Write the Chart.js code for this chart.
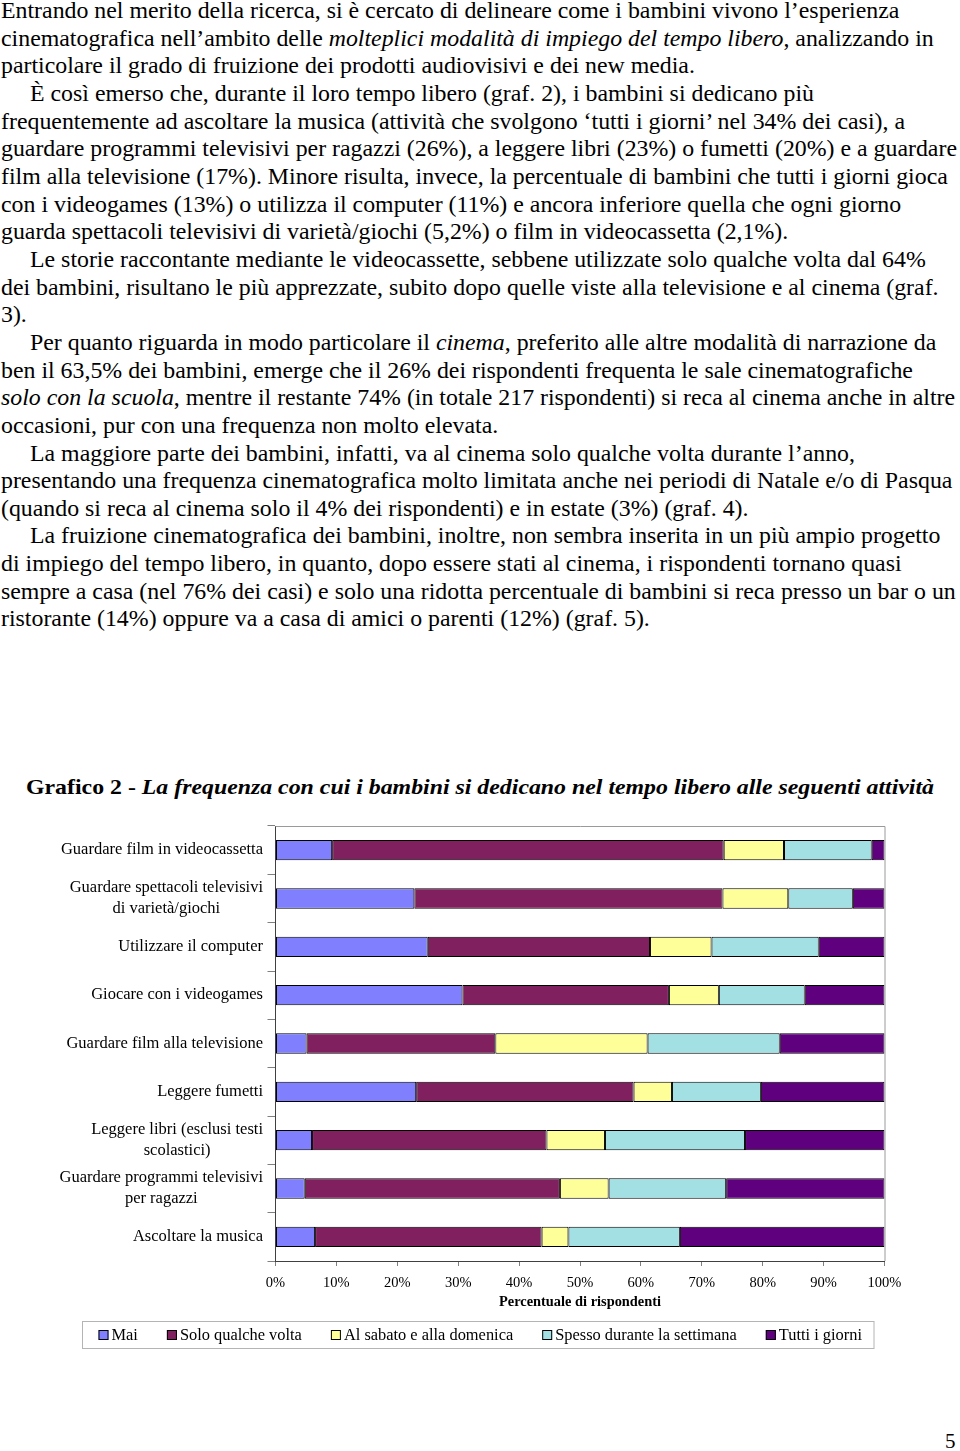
<!DOCTYPE html>
<html>
<head>
<meta charset="utf-8">
<script src="https://cdn.jsdelivr.net/npm/chart.js@4"></script>
<style>
  html, body { margin: 0; padding: 0; background: #fff; }
  body { width: 960px; height: 1451px; position: relative; overflow: hidden; font-family: "Liberation Serif", serif; color: #000; }
  #text { position: absolute; left: 1px; top: -3px; font-size: 23.85px; line-height: 27.65px; }
  #text div { white-space: nowrap; }
  #text .ind { padding-left: 29px; }
  #title { position: absolute; left: 26px; top: 774px; font-size: 22px; font-weight: bold; white-space: nowrap; transform-origin: left center; }
  #chartBox { position: absolute; left: 0; top: 815px; width: 960px; height: 545px; }
  #pageNum { position: absolute; left: 945px; top: 1429px; font-size: 21px; }
</style>
</head>
<body>
<div id="text">
  <div>Entrando nel merito della ricerca, si è cercato di delineare come i bambini vivono l’esperienza</div>
  <div>cinematografica nell’ambito delle <i>molteplici modalità di impiego del tempo libero</i>, analizzando in</div>
  <div>particolare il grado di fruizione dei prodotti audiovisivi e dei new media.</div>
  <div class="ind">È così emerso che, durante il loro tempo libero (graf. 2), i bambini si dedicano più</div>
  <div>frequentemente ad ascoltare la musica (attività che svolgono ‘tutti i giorni’ nel 34% dei casi), a</div>
  <div>guardare programmi televisivi per ragazzi (26%), a leggere libri (23%) o fumetti (20%) e a guardare</div>
  <div>film alla televisione (17%). Minore risulta, invece, la percentuale di bambini che tutti i giorni gioca</div>
  <div>con i videogames (13%) o utilizza il computer (11%) e ancora inferiore quella che ogni giorno</div>
  <div>guarda spettacoli televisivi di varietà/giochi (5,2%) o film in videocassetta (2,1%).</div>
  <div class="ind">Le storie raccontante mediante le videocassette, sebbene utilizzate solo qualche volta dal 64%</div>
  <div>dei bambini, risultano le più apprezzate, subito dopo quelle viste alla televisione e al cinema (graf.</div>
  <div>3).</div>
  <div class="ind">Per quanto riguarda in modo particolare il <i>cinema</i>, preferito alle altre modalità di narrazione da</div>
  <div>ben il 63,5% dei bambini, emerge che il 26% dei rispondenti frequenta le sale cinematografiche</div>
  <div><i>solo con la scuola</i>, mentre il restante 74% (in totale 217 rispondenti) si reca al cinema anche in altre</div>
  <div>occasioni, pur con una frequenza non molto elevata.</div>
  <div class="ind">La maggiore parte dei bambini, infatti, va al cinema solo qualche volta durante l’anno,</div>
  <div>presentando una frequenza cinematografica molto limitata anche nei periodi di Natale e/o di Pasqua</div>
  <div>(quando si reca al cinema solo il 4% dei rispondenti) e in estate (3%) (graf. 4).</div>
  <div class="ind">La fruizione cinematografica dei bambini, inoltre, non sembra inserita in un più ampio progetto</div>
  <div>di impiego del tempo libero, in quanto, dopo essere stati al cinema, i rispondenti tornano quasi</div>
  <div>sempre a casa (nel 76% dei casi) e solo una ridotta percentuale di bambini si reca presso un bar o un</div>
  <div>ristorante (14%) oppure va a casa di amici o parenti (12%) (graf. 5).</div>
</div>

<div id="title">Grafico 2 - <i>La frequenza con cui i bambini si dedicano nel tempo libero alle seguenti attività</i></div>

<div id="chartBox"><canvas id="chart"></canvas></div>
<div id="pageNum">5</div>

<script>
// activities, top to bottom as in the chart
const activities = [
    'Guardare film in videocassetta',
    ['Guardare spettacoli televisivi', 'di varietà/giochi'],
    'Utilizzare il computer',
    'Giocare con i videogames',
    'Guardare film alla televisione',
    'Leggere fumetti',
    ['Leggere libri (esclusi testi', 'scolastici)'],
    ['Guardare programmi televisivi', 'per ragazzi'],
    'Ascoltare la musica'
];

const frequencyNames = ['Mai', 'Solo qualche volta', 'Al sabato e alla domenica', 'Spesso durante la settimana', 'Tutti i giorni'];

// percent of respondents per activity
const mai = [9.3, 22.8, 25.0, 30.7, 5.1, 23.1, 6.0, 4.8, 6.5];
const soloQualcheVolta = [64.3, 50.6, 36.5, 33.9, 31.0, 35.7, 38.5, 41.9, 37.2];
const sabatoDomenica = [9.9, 10.8, 10.1, 8.2, 25.0, 6.3, 9.6, 8.0, 4.4];
const spessoSettimana = [14.4, 10.6, 17.6, 14.1, 21.7, 14.6, 23.0, 19.3, 18.3];
const tuttiGiorni = [2.1, 5.2, 10.8, 13.1, 17.2, 20.3, 22.9, 26.0, 33.6];

const xTicks = [0, 10, 20, 30, 40, 50, 60, 70, 80, 90, 100];

const colors = ['#8080ff', '#80205f', '#ffff99', '#a3e0e3', '#5f007f'];

const FONT = 'Liberation Serif';

// squeeze the title to the reference width
const titleEl = document.getElementById('title');
const tw = titleEl.getBoundingClientRect().width;
titleEl.style.transform = 'scaleX(' + (908 / tw) + ')';

// category labels: right-aligned block, lines centred inside it (like Excel)
const categoryLabels = {
    id: 'categoryLabels',
    afterDraw(chart) {
        const ctx = chart.ctx;
        const yScale = chart.scales.y;
        const right = chart.chartArea.left - 12.5;
        ctx.save();
        ctx.font = '16.5px "' + FONT + '"';
        ctx.fillStyle = '#000';
        ctx.textAlign = 'center';
        ctx.textBaseline = 'middle';
        chart.data.labels.forEach((label, i) => {
            const lines = Array.isArray(label) ? label : [label];
            const w = Math.max(...lines.map(l => ctx.measureText(l).width));
            const cx = right - w / 2;
            const cy = yScale.getPixelForValue(i);
            const lh = 21;
            lines.forEach((l, k) => {
                ctx.fillText(l, cx, cy + (k - (lines.length - 1) / 2) * lh);
            });
        });
        ctx.restore();
    }
};

// plot area frame (top + right, grey)
const plotFrame = {
    id: 'plotFrame',
    beforeDatasetsDraw(chart) {
        const {ctx, chartArea: a} = chart;
        ctx.save();
        ctx.strokeStyle = '#9a9a9a';
        ctx.lineWidth = 1;
        ctx.beginPath();
        ctx.moveTo(a.left, a.top + 0.5);
        ctx.lineTo(a.right + 0.5, a.top + 0.5);
        ctx.lineTo(a.right + 0.5, a.bottom);
        ctx.stroke();
        ctx.restore();
    }
};

// boxed legend below the axis title
const boxLegend = {
    id: 'boxLegend',
    afterDraw(chart) {
        const ctx = chart.ctx;
        const sets = chart.data.datasets;
        ctx.save();
        ctx.font = '16.4px "' + FONT + '"';
        ctx.textBaseline = 'middle';
        const marker = 10, gapText = 3, gapItem = 29, padL = 16, padR = 12;
        const widths = sets.map(d => marker + gapText + ctx.measureText(d.label).width);
        const total = padL + padR + widths.reduce((a, b) => a + b, 0) + gapItem * (sets.length - 1);
        const left = Math.round(chart.width / 2 - 2.5 - total / 2) + 0.5;
        const top = chart.chartArea.bottom + 60.5;
        const h = 27;
        ctx.strokeStyle = '#b4b4b4';
        ctx.lineWidth = 1;
        ctx.strokeRect(left, top, total, h);
        let x = left + padL;
        const cy = top + h / 2;
        sets.forEach((d, i) => {
            ctx.fillStyle = d.backgroundColor;
            ctx.fillRect(x, cy - 5, marker, marker);
            ctx.strokeStyle = '#000';
            ctx.strokeRect(x + 0.5, cy - 4.5, marker - 1, marker - 1);
            ctx.fillStyle = '#000';
            ctx.fillText(d.label, x + marker + gapText, cy + 1);
            x += widths[i] + gapItem;
        });
        ctx.restore();
    }
};

const seriesValues = [mai, soloQualcheVolta, sabatoDomenica, spessoSettimana, tuttiGiorni];

new Chart(document.getElementById('chart'), {
    type: 'bar',
    data: {
        labels: activities,
        datasets: frequencyNames.map((name, i) => ({
            label: name,
            data: seriesValues[i],
            backgroundColor: colors[i],
            borderColor: '#000',
            borderWidth: 1,
            borderSkipped: false,
            categoryPercentage: 1,
            barPercentage: 0.42
        }))
    },
    options: {
        indexAxis: 'y',
        responsive: true,
        maintainAspectRatio: false,
        animation: false,
        layout: { padding: { top: 11, right: 75.5, left: 0, bottom: 0 } },
        plugins: {
            legend: { display: false },
            tooltip: { enabled: false }
        },
        scales: {
            x: {
                stacked: true,
                min: 0,
                max: 100,
                afterBuildTicks(scale) {
                    scale.ticks = xTicks.map(v => ({ value: v }));
                },
                afterFit(scale) { scale.height = 99; },
                grid: { drawOnChartArea: false, drawTicks: true, tickLength: 5, color: '#808080' },
                border: { display: true, color: '#404040' },
                ticks: {
                    padding: 8,
                    color: '#000',
                    font: { family: FONT, size: 14.5 },
                    callback: v => v + '%'
                },
                title: {
                    display: true,
                    text: 'Percentuale di rispondenti',
                    color: '#000',
                    font: { family: FONT, size: 14.4, weight: 'bold' },
                    padding: { top: 4, bottom: 49 }
                }
            },
            y: {
                stacked: true,
                afterFit(scale) { scale.width = 275.5; },
                grid: { drawOnChartArea: false, drawTicks: true, tickLength: 8, color: '#808080', offset: true },
                border: { display: true, color: '#404040' },
                ticks: { display: false }
            }
        }
    },
    plugins: [categoryLabels, plotFrame, boxLegend]
});
</script>
</body>
</html>
